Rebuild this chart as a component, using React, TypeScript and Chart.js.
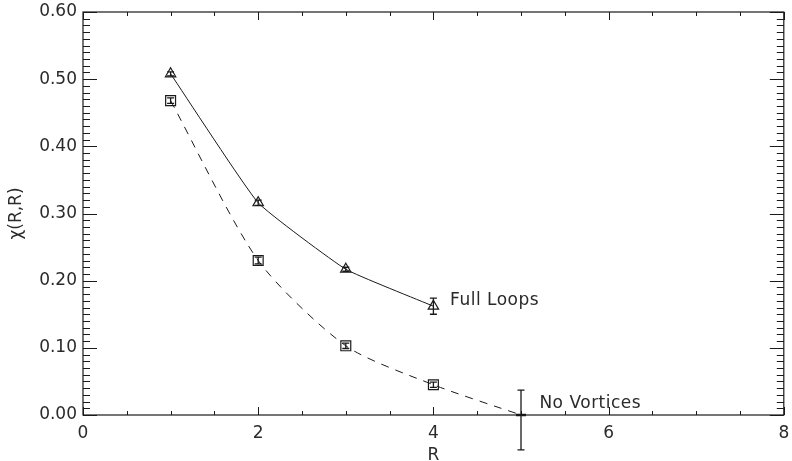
import { useEffect, useRef } from "react";
import { Chart, registerables } from "chart.js";

Chart.register(...registerables);

// Correlation chi(R,R) against loop size R
const loopRadii = [1, 2, 3, 4];
const fullLoops = [0.508, 0.316, 0.217, 0.162];
const fullLoopsErrUp = [0.003, 0.004, 0.003, 0.012];
const fullLoopsErrDown = [0.003, 0.004, 0.003, 0.012];

const vortexRadii = [1, 2, 3, 4, 5];
const noVortices = [0.468, 0.23, 0.103, 0.045, 0.0];
const noVorticesErrUp = [0.004, 0.005, 0.004, 0.004, 0.037];
const noVorticesErrDown = [0.004, 0.005, 0.004, 0.004, 0.052];

const xTickValues = [0, 2, 4, 6, 8];
const yTickValues = [0, 0.1, 0.2, 0.3, 0.4, 0.5, 0.6];

const seriesLabels = ["Full Loops", "No Vortices"];
// anchor (data units) for the inline series captions
const captionAnchors = [
  { x: 4.19, y: 0.171 },
  { x: 5.21, y: 0.017 },
];

const INK = "#1a1a1a";
const TEXT = "#2a2a2a";
const FONT = "DejaVu Sans";

const frameAndTicks = {
  id: "frameAndTicks",
  afterDatasetsDraw(chart: any) {
    const { ctx, chartArea: a, scales } = chart;
    const xs = scales.x;
    const ys = scales.y;
    ctx.save();
    ctx.strokeStyle = INK;
    ctx.lineWidth = 1.2;
    ctx.strokeRect(a.left, a.top, a.right - a.left, a.bottom - a.top);
    ctx.lineWidth = 1;
    ctx.beginPath();
    // x ticks: minor every 0.5, major every 2, pointing inward from top and bottom
    for (let i = 0; i <= 16; i++) {
      const v = i * 0.5;
      const px = Math.round(xs.getPixelForValue(v)) + 0.5;
      const len = i % 4 === 0 ? 8 : 4;
      ctx.moveTo(px, a.bottom);
      ctx.lineTo(px, a.bottom - len);
      ctx.moveTo(px, a.top);
      ctx.lineTo(px, a.top + len);
    }
    // y ticks: minor every 0.01, major every 0.1, inward from left and right
    for (let i = 0; i <= 60; i++) {
      const v = i * 0.01;
      const py = Math.round(ys.getPixelForValue(v)) + 0.5;
      const len = i % 10 === 0 ? 14 : 7;
      ctx.moveTo(a.left, py);
      ctx.lineTo(a.left + len, py);
      ctx.moveTo(a.right, py);
      ctx.lineTo(a.right - len, py);
    }
    ctx.stroke();
    ctx.restore();
  },
};

const errorBars = {
  id: "errorBars",
  afterDatasetsDraw(chart: any) {
    const { ctx, scales } = chart;
    const ys = scales.y;
    ctx.save();
    ctx.strokeStyle = INK;
    ctx.lineWidth = 1.3;
    chart.data.datasets.forEach((ds: any, di: number) => {
      const up: number[] | undefined = ds.errorsUp;
      const down: number[] | undefined = ds.errorsDown;
      if (!up || !down) return;
      const meta = chart.getDatasetMeta(di);
      meta.data.forEach((pt: any, i: number) => {
        const v = ds.data[i].y;
        const top = ys.getPixelForValue(v + up[i]);
        const bot = ys.getPixelForValue(v - down[i]);
        const cap = 3.5;
        ctx.beginPath();
        ctx.moveTo(pt.x, top);
        ctx.lineTo(pt.x, bot);
        ctx.moveTo(pt.x - cap, top);
        ctx.lineTo(pt.x + cap, top);
        ctx.moveTo(pt.x - cap, bot);
        ctx.lineTo(pt.x + cap, bot);
        ctx.stroke();
      });
    });
    ctx.restore();
  },
};

const captions = {
  id: "captions",
  afterDraw(chart: any) {
    const { ctx, scales } = chart;
    ctx.save();
    ctx.fillStyle = TEXT;
    ctx.font = `17px "${FONT}"`;
    ctx.letterSpacing = "0.5px";
    ctx.textAlign = "left";
    ctx.textBaseline = "middle";
    seriesLabels.forEach((t, i) => {
      const p = captionAnchors[i];
      ctx.fillText(t, scales.x.getPixelForValue(p.x), scales.y.getPixelForValue(p.y));
    });
    ctx.restore();
  },
};

export default function App() {
  const ref = useRef<HTMLCanvasElement>(null);

  useEffect(() => {
    document.body.style.margin = "0";
    const canvas = ref.current;
    if (!canvas) return;

    const chart = new Chart(canvas, {
      type: "line",
      data: {
        datasets: [
          {
            label: seriesLabels[0],
            data: loopRadii.map((x, i) => ({ x, y: fullLoops[i] })),
            errorsUp: fullLoopsErrUp,
            errorsDown: fullLoopsErrDown,
            borderColor: INK,
            borderWidth: 1,
            backgroundColor: "rgba(0,0,0,0)",
            pointStyle: "triangle",
            pointRadius: 6,
            pointBorderWidth: 1.2,
            pointBorderColor: INK,
            tension: 0.12,
            clip: false,
          } as any,
          {
            label: seriesLabels[1],
            data: vortexRadii.map((x, i) => ({ x, y: noVortices[i] })),
            errorsUp: noVorticesErrUp,
            errorsDown: noVorticesErrDown,
            borderColor: INK,
            borderWidth: 1,
            borderDash: [8, 7],
            backgroundColor: "rgba(0,0,0,0)",
            pointStyle: ["rect", "rect", "rect", "rect", "line"],
            pointRadius: [7, 7, 7, 7, 5],
            pointBorderWidth: [1.2, 1.2, 1.2, 1.2, 2.5],
            pointBorderColor: INK,
            tension: 0.25,
            clip: false,
          } as any,
        ],
      },
      options: {
        animation: false,
        responsive: false,
        maintainAspectRatio: false,
        layout: { padding: { top: 12, right: 3, left: 0, bottom: 0 } },
        plugins: {
          legend: { display: false },
          tooltip: { enabled: false },
        },
        scales: {
          x: {
            type: "linear",
            min: 0,
            max: 8,
            afterBuildTicks: (s: any) => {
              s.ticks = xTickValues.map((value) => ({ value }));
            },
            afterFit: (s: any) => {
              s.height = 46;
              s.paddingLeft = 0;
              s.paddingRight = 0;
            },
            grid: { display: false, drawTicks: false },
            border: { display: false },
            ticks: {
              autoSkip: false,
              maxRotation: 0,
              padding: 8,
              color: TEXT,
              font: { family: FONT, size: 17 },
              callback: (v: any) => String(v),
            },
            title: {
              display: true,
              text: "R",
              color: TEXT,
              font: { family: FONT, size: 17 },
              padding: { top: 0, bottom: -5 },
            },
          },
          y: {
            type: "linear",
            min: 0,
            max: 0.6,
            afterBuildTicks: (s: any) => {
              s.ticks = yTickValues.map((value) => ({ value }));
            },
            afterFit: (s: any) => {
              s.width = 83;
              s.paddingTop = 0;
              s.paddingBottom = 0;
            },
            grid: { display: false, drawTicks: false },
            border: { display: false },
            ticks: {
              autoSkip: false,
              padding: 6,
              color: TEXT,
              font: { family: FONT, size: 17 },
              callback: (v: any) => Number(v).toFixed(2),
            },
            title: {
              display: true,
              text: "χ(R,R)",
              color: TEXT,
              font: { family: FONT, size: 17 },
              padding: { top: 6, bottom: 0 },
            },
          },
        },
      },
      plugins: [frameAndTicks, errorBars, captions],
    } as any);

    return () => chart.destroy();
  }, []);

  return (
    <div style={{ width: 792, height: 461 }}>
      <canvas ref={ref} width={792} height={461} style={{ display: "block" }} />
    </div>
  );
}
